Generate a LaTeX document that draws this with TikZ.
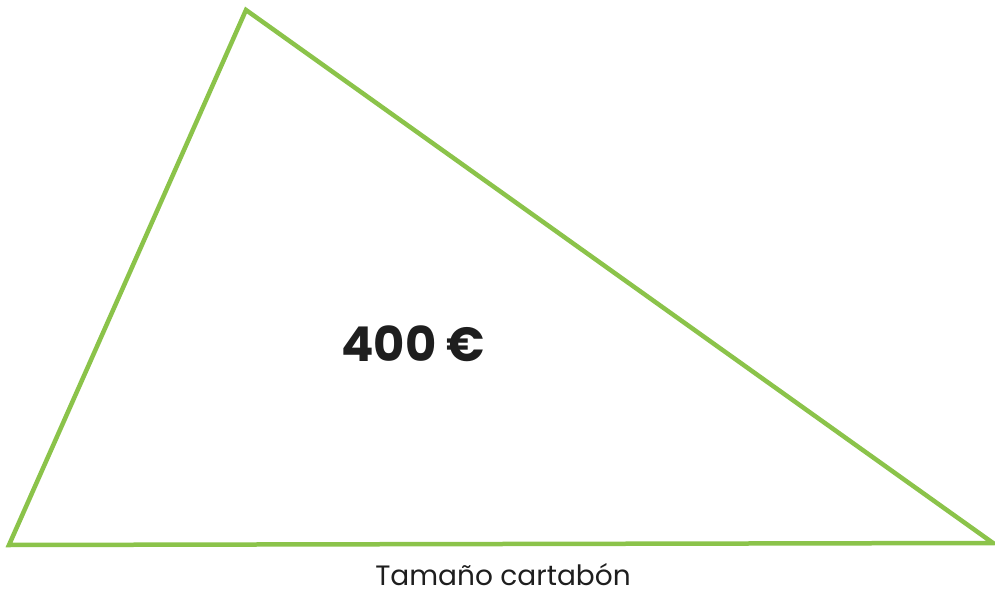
\documentclass[tikz,border=0pt]{standalone}
\usepackage{fontspec}
\setmainfont{Poppins}
\definecolor{tri}{RGB}{139,195,74}
\definecolor{txt}{RGB}{30,30,30}
\begin{document}
\begin{tikzpicture}[x=1pt,y=-1pt,
  edge/.style={draw=tri,line width=4.5pt,line join=miter},
  lbl/.style={inner sep=0pt,text=txt}]
\useasboundingbox (0,0) rectangle (995,601);
\coordinate (top) at (246,10);
\coordinate (left) at (9,545);
\coordinate (right) at (993,543);
\draw[edge] (top) -- (right) -- (left) -- cycle;
\node[lbl,font=\fontsize{48}{52}\selectfont\bfseries,anchor=base] (price) at (413,361) {400 €};
\node[lbl,font=\fontsize{28}{32}\selectfont,anchor=base] (cap) at (503,585) {Tamaño cartabón};
\end{tikzpicture}
\end{document}
